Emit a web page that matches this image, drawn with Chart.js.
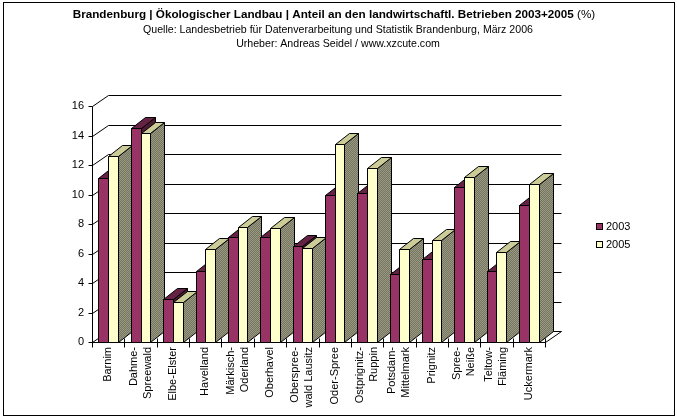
<!DOCTYPE html>
<html>
<head>
<meta charset="utf-8">
<script src="https://cdn.jsdelivr.net/npm/chart.js@4/dist/chart.umd.min.js"></script>
<style>
  body { margin: 0; background: #fff; }
</style>
</head>
<body>
<canvas id="chart" width="677" height="419"></canvas>
<script>
// Landkreise (zweizeilige Beschriftung als Array)
const regions = [
  ['Barnim'], ['Dahme-', 'Spreewald'], ['Elbe-Elster'], ['Havelland'],
  ['Märkisch-', 'Oderland'], ['Oberhavel'], ['Oberspree-', 'wald Lausitz'],
  ['Oder-Spree'], ['Ostprignitz-', 'Ruppin'], ['Potsdam-', 'Mittelmark'],
  ['Prignitz'], ['Spree-', 'Neiße'], ['Teltow-', 'Fläming'], ['Uckermark']
];
const share2003 = [11.1, 14.5, 2.9, 4.8, 7.1, 7.1, 6.5, 10.0, 10.1, 4.6, 5.6, 10.5, 4.8, 9.3];
const share2005 = [12.6, 14.2, 2.7, 6.3, 7.8, 7.7, 6.4, 13.4, 11.8, 6.3, 6.9, 11.2, 6.1, 10.7];
const seriesLabels = ['2003', '2005'];
const yMax = 16;
const yStep = 2;

const titleBold = 'Brandenburg | Ökologischer Landbau | Anteil an den landwirtschaftl. Betrieben 2003+2005';
const titleRest = ' (%)';
const subLines = [
  'Quelle: Landesbetrieb für Datenverarbeitung und Statistik Brandenburg, März 2006',
  'Urheber: Andreas Seidel / www.xzcute.com'
];

const FONT = '"Liberation Sans", Arial, sans-serif';
const WALL = { dx: 16, dy: -11 };   // Tiefe der Rückwand
const BAR = { dx: 14, dy: -11 };    // Tiefe der Säulen

// Farben: Vorderseite, Oberseite, Seite
const faces = [
  { front: '#993366', top: '#662244', side: '#4d1a33' },
  { front: '#ffffcc', top: '#cccc99', side: null }
];

function oliveDither(ctx) {
  const c = document.createElement('canvas');
  c.width = 2; c.height = 2;
  const g = c.getContext('2d');
  g.fillStyle = '#747460'; g.fillRect(0, 0, 2, 2);
  g.fillStyle = '#9a9a82'; g.fillRect(0, 0, 1, 1); g.fillRect(1, 1, 1, 1);
  return ctx.createPattern(c, 'repeat');
}

function line(ctx, x1, y1, x2, y2) {
  ctx.beginPath(); ctx.moveTo(x1, y1); ctx.lineTo(x2, y2); ctx.stroke();
}

function poly(ctx, pts, fill) {
  ctx.beginPath();
  pts.forEach((p, i) => i ? ctx.lineTo(p[0], p[1]) : ctx.moveTo(p[0], p[1]));
  ctx.closePath();
  ctx.fillStyle = fill; ctx.fill(); ctx.stroke();
}

const excel3d = {
  id: 'excel3d',
  beforeDatasetsDraw(chart) {
    const ctx = chart.ctx, a = chart.chartArea;
    const xs = chart.scales.x, ys = chart.scales.y;
    const L = a.left + 0.5, R = Math.round(a.right) + 0.5;
    ctx.save();
    ctx.strokeStyle = '#000';
    ctx.lineWidth = 1;

    // Gitternetz an Rück- und Seitenwand
    ys.ticks.forEach(t => {
      const py = Math.round(ys.getPixelForValue(t.value)) + 0.5;
      line(ctx, L, py, L + WALL.dx, py + WALL.dy);
      line(ctx, L + WALL.dx, py + WALL.dy, R + WALL.dx, py + WALL.dy);
      line(ctx, L - 4, py, L, py);
    });
    const base = Math.round(ys.getPixelForValue(0)) + 0.5;
    line(ctx, R, base, R + WALL.dx, base + WALL.dy);
    // Achsen
    line(ctx, L, Math.round(ys.getPixelForValue(yMax)) + 0.5, L, base);
    line(ctx, L, base, R, base);
    const n = regions.length;
    const step = xs.getPixelForTick(1) - xs.getPixelForTick(0);
    for (let i = 0; i <= n; i++) {
      const px = Math.round(i < n ? xs.getPixelForTick(i) - step / 2 : a.right) + 0.5;
      line(ctx, px, base - 4, px, base + 5);
    }

    // Säulen
    const pattern = oliveDither(ctx);
    for (let i = 0; i < n; i++) {
      chart.data.datasets.forEach((ds, d) => {
        const el = chart.getDatasetMeta(d).data[i];
        const l = Math.round(el.x - el.width / 2) + 0.5;
        const r = Math.round(el.x + el.width / 2) + 0.5;
        const t = Math.round(el.y) + 0.5;
        const b = Math.round(el.base) + 0.5;
        const f = faces[d];
        poly(ctx, [[r, t], [r + BAR.dx, t + BAR.dy], [r + BAR.dx, b + BAR.dy], [r, b]], f.side || pattern);
        poly(ctx, [[l, t], [l + BAR.dx, t + BAR.dy], [r + BAR.dx, t + BAR.dy], [r, t]], f.top);
        poly(ctx, [[l, t], [r, t], [r, b], [l, b]], f.front);
      });
    }
    ctx.restore();
    return false;
  },
  afterDraw(chart) {
    const ctx = chart.ctx, xs = chart.scales.x;
    const base = Math.round(chart.scales.y.getPixelForValue(0));
    ctx.save();
    ctx.fillStyle = '#000';

    // Kategorienbeschriftung, senkrecht
    ctx.font = '11px ' + FONT;
    const lh = 14;
    regions.forEach((lines, i) => {
      ctx.save();
      ctx.translate(xs.getPixelForTick(i), base + 5);
      ctx.rotate(-Math.PI / 2);
      ctx.textAlign = 'right';
      ctx.textBaseline = 'middle';
      lines.forEach((s, j) => ctx.fillText(s, 0, (j - (lines.length - 1) / 2) * lh));
      ctx.restore();
    });

    // Titel
    ctx.textBaseline = 'middle';
    ctx.textAlign = 'left';
    ctx.font = 'bold 11.7px ' + FONT;
    const wb = ctx.measureText(titleBold).width;
    ctx.font = '11.7px ' + FONT;
    const wr = ctx.measureText(titleRest).width;
    const x0 = 334 - (wb + wr) / 2;
    ctx.font = 'bold 11.7px ' + FONT;
    ctx.fillText(titleBold, x0, 15);
    ctx.font = '11.7px ' + FONT;
    ctx.fillText(titleRest, x0 + wb, 15);
    ctx.textAlign = 'center';
    ctx.font = '10.6px ' + FONT;
    subLines.forEach((s, i) => ctx.fillText(s, 338, 30 + i * 14));

    // Legende
    ctx.font = '11px ' + FONT;
    ctx.textAlign = 'left';
    ctx.strokeStyle = '#000';
    chart.data.datasets.forEach((ds, d) => {
      const y = 227 + d * 18;
      ctx.fillStyle = ds.backgroundColor;
      ctx.fillRect(596, y - 3, 6, 6);
      ctx.strokeRect(596.5, y - 3.5, 6, 6);
      ctx.fillStyle = '#000';
      ctx.fillText(ds.label, 606, y);
    });

    // Rahmen
    ctx.strokeRect(3.5, 2.5, 671, 413);
    ctx.restore();
  }
};

new Chart(document.getElementById('chart'), {
  type: 'bar',
  data: {
    labels: regions,
    datasets: [
      { label: seriesLabels[0], data: share2003, backgroundColor: faces[0].front },
      { label: seriesLabels[1], data: share2005, backgroundColor: faces[1].front }
    ]
  },
  options: {
    responsive: false,
    devicePixelRatio: 1,
    animation: false,
    layout: { padding: { left: 0, top: 106, right: 132, bottom: 77 } },
    categoryPercentage: 0.6,
    barPercentage: 1,
    plugins: {
      legend: { display: false },
      title: { display: false },
      tooltip: { enabled: false }
    },
    scales: {
      x: {
        grid: { display: false, drawTicks: false },
        border: { display: false },
        ticks: { display: false },
        afterFit: s => { s.height = 0; }
      },
      y: {
        min: 0,
        max: yMax,
        grid: { display: false, drawTicks: false },
        border: { display: false },
        ticks: {
          stepSize: yStep,
          padding: 8,
          color: '#000',
          font: { size: 11, family: FONT }
        },
        afterFit: s => { s.width = 92; }
      }
    }
  },
  plugins: [excel3d]
});
</script>
</body>
</html>
